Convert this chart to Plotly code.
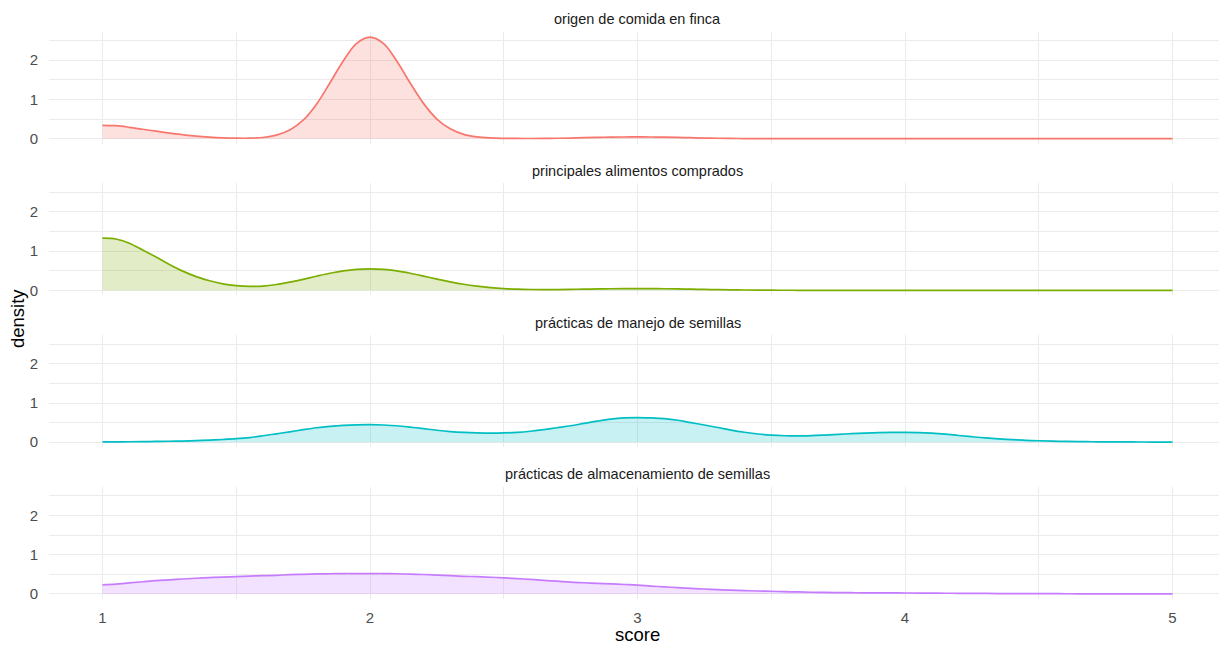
import plotly.graph_objects as go

# ---- data (density values) ----
score_grid = [1.00, 1.05, 1.10, 1.15, 1.20, 1.25, 1.30, 1.35, 1.40, 1.45,
              1.50, 1.55, 1.60, 1.65, 1.70, 1.75, 1.80, 1.85, 1.90, 1.95,
              2.00, 2.05, 2.10, 2.15, 2.20, 2.25, 2.30, 2.35, 2.40, 2.45,
              2.50, 2.55, 2.60, 2.65, 2.70, 2.75, 2.80, 2.85, 2.90, 2.95,
              3.00, 3.05, 3.10, 3.15, 3.20, 3.25, 3.30, 3.35, 3.40, 3.45,
              3.50, 3.55, 3.60, 3.65, 3.70, 3.75, 3.80, 3.85, 3.90, 3.95,
              4.00, 4.05, 4.10, 4.15, 4.20, 4.25, 4.30, 4.35, 4.40, 4.45,
              4.50, 4.55, 4.60, 4.65, 4.70, 4.75, 4.80, 4.85, 4.90, 4.95,
              5.00]

facet_titles = ["origen de comida en finca",
                "principales alimentos comprados",
                "prácticas de manejo de semillas",
                "prácticas de almacenamiento de semillas"]

density_origen = [0.34, 0.33, 0.29, 0.24, 0.19, 0.14, 0.10, 0.065, 0.04, 0.022,
                  0.013, 0.012, 0.03, 0.09, 0.22, 0.47, 0.88, 1.42, 1.98, 2.43,
                  2.59, 2.43, 1.98, 1.42, 0.90, 0.50, 0.25, 0.11, 0.045, 0.018,
                  0.008, 0.005, 0.004, 0.006, 0.010, 0.016, 0.024, 0.032, 0.039, 0.043,
                  0.044, 0.043, 0.039, 0.032, 0.024, 0.016, 0.010, 0.006, 0.003, 0.002,
                  0.001, 0.001, 0.001, 0.0, 0.0, 0.0, 0.0, 0.0, 0.0, 0.0,
                  0.0, 0.0, 0.0, 0.0, 0.0, 0.0, 0.0, 0.0, 0.0, 0.0,
                  0.0, 0.0, 0.0, 0.0, 0.0, 0.0, 0.0, 0.0, 0.0, 0.0,
                  0.0]

density_comprados = [1.33, 1.31, 1.20, 1.03, 0.85, 0.66, 0.49, 0.35, 0.245, 0.165,
                     0.12, 0.10, 0.11, 0.15, 0.21, 0.28, 0.36, 0.435, 0.497, 0.536,
                     0.55, 0.536, 0.496, 0.436, 0.364, 0.288, 0.217, 0.155, 0.107, 0.07,
                     0.045, 0.03, 0.022, 0.02, 0.021, 0.025, 0.031, 0.036, 0.041, 0.044,
                     0.045, 0.044, 0.041, 0.036, 0.030, 0.024, 0.018, 0.013, 0.009, 0.006,
                     0.004, 0.003, 0.002, 0.002, 0.002, 0.002, 0.002, 0.002, 0.002, 0.002,
                     0.002, 0.002, 0.002, 0.002, 0.002, 0.002, 0.002, 0.002, 0.002, 0.002,
                     0.002, 0.002, 0.002, 0.002, 0.002, 0.002, 0.002, 0.002, 0.002, 0.002,
                     0.002]

density_manejo = [0.01, 0.01, 0.012, 0.015, 0.02, 0.025, 0.03, 0.04, 0.055, 0.07,
                  0.09, 0.12, 0.165, 0.215, 0.265, 0.32, 0.37, 0.405, 0.43, 0.445,
                  0.45, 0.44, 0.42, 0.385, 0.345, 0.305, 0.272, 0.25, 0.237, 0.232,
                  0.237, 0.252, 0.28, 0.32, 0.37, 0.42, 0.48, 0.54, 0.59, 0.62,
                  0.63, 0.62, 0.60, 0.56, 0.50, 0.44, 0.375, 0.31, 0.255, 0.21,
                  0.18, 0.165, 0.16, 0.168, 0.183, 0.20, 0.218, 0.233, 0.244, 0.25,
                  0.25, 0.245, 0.23, 0.205, 0.172, 0.14, 0.11, 0.085, 0.065, 0.05,
                  0.038, 0.028, 0.02, 0.015, 0.012, 0.01, 0.008, 0.007, 0.006, 0.005,
                  0.005]

density_almacenamiento = [0.23, 0.25, 0.28, 0.31, 0.34, 0.36, 0.38, 0.40, 0.415, 0.43,
                          0.44, 0.455, 0.465, 0.475, 0.49, 0.50, 0.51, 0.515, 0.52, 0.52,
                          0.52, 0.52, 0.515, 0.505, 0.495, 0.48, 0.465, 0.45, 0.44, 0.425,
                          0.41, 0.39, 0.37, 0.345, 0.325, 0.30, 0.285, 0.27, 0.255, 0.24,
                          0.225, 0.20, 0.18, 0.16, 0.14, 0.125, 0.11, 0.095, 0.085, 0.075,
                          0.068, 0.058, 0.05, 0.043, 0.038, 0.034, 0.031, 0.028, 0.026, 0.025,
                          0.024, 0.022, 0.02, 0.018, 0.016, 0.014, 0.012, 0.01, 0.009, 0.008,
                          0.007, 0.006, 0.005, 0.004, 0.004, 0.003, 0.003, 0.002, 0.002, 0.001,
                          0.001]

series = [density_origen, density_comprados, density_manejo, density_almacenamiento]
line_colors = ["#F8766D", "#7CAE00", "#00BFC4", "#C77CFF"]
fill_colors = ["rgba(248,118,109,0.22)", "rgba(124,174,0,0.22)",
               "rgba(0,191,196,0.22)", "rgba(199,124,255,0.22)"]

x_ticks = [1, 2, 3, 4, 5]
y_ticks = [0, 1, 2]

# ---- layout geometry (pixel positions in the page; page body has an 8px margin) ----
OFF = 8.0
W = 1219
H = 643.0
panel_px = [(31.7, 144.4), (184.1, 296.8), (336.7, 449.4), (489.1, 601.8)]
strip_px = [19.3, 171.7, 324.2, 476.6]
ML = 49 - OFF
MR = 1
PW = W - ML - MR


def py(p):
    return 1 - (p - OFF) / H


def px(p):
    return (p - OFF - ML) / PW


FONT = "Liberation Sans, Arial, Helvetica, sans-serif"
GRID = "#EBEBEB"

fig = go.Figure()
layout = dict(
    width=W, height=int(H),
    margin=dict(l=ML, r=MR, t=0, b=0),
    paper_bgcolor="white", plot_bgcolor="white",
    showlegend=False,
    font=dict(family=FONT),
    annotations=[],
)

for i, (ys, lc, fc) in enumerate(zip(series, line_colors, fill_colors)):
    n = i + 1
    xa = "x" if n == 1 else f"x{n}"
    ya = "y" if n == 1 else f"y{n}"
    fig.add_trace(go.Scatter(
        x=score_grid, y=ys, xaxis=xa, yaxis=ya,
        mode="lines", line=dict(color=lc, width=1.7, shape="spline", smoothing=1.0),
        fill="tozeroy", fillcolor=fc, hoverinfo="x+y",
    ))
    top, bot = panel_px[i]
    dom = [py(bot), py(top)]
    xkey = "xaxis" if n == 1 else f"xaxis{n}"
    ykey = "yaxis" if n == 1 else f"yaxis{n}"
    xax = dict(
        domain=[0, 1], range=[0.8, 5.2], anchor=ya,
        tickvals=x_ticks, ticktext=[str(v) for v in x_ticks],
        showticklabels=(n == 4),
        ticks="outside" if n == 4 else "", ticklen=5, tickcolor="rgba(0,0,0,0)",
        tickfont=dict(size=15, color="#4D4D4D", family=FONT),
        showgrid=True, gridcolor=GRID, gridwidth=1.4,
        minor=dict(tick0=0.5, dtick=1, showgrid=True, gridcolor=GRID, gridwidth=0.7),
        zeroline=False, showline=False,
    )
    if n != 1:
        xax["matches"] = "x"
    layout[xkey] = xax
    layout[ykey] = dict(
        domain=dom, range=[-0.13, 2.73], anchor=xa,
        tickvals=y_ticks, ticktext=[str(v) for v in y_ticks],
        ticks="outside", ticklen=7, tickcolor="rgba(0,0,0,0)",
        tickfont=dict(size=15, color="#4D4D4D", family=FONT),
        showgrid=True, gridcolor=GRID, gridwidth=1.4,
        minor=dict(tick0=0.5, dtick=1, showgrid=True, gridcolor=GRID, gridwidth=0.7),
        zeroline=False, showline=False,
    )
    layout["annotations"].append(dict(
        text=facet_titles[i], xref="paper", yref="paper",
        x=0.5, y=py(strip_px[i]), xanchor="center", yanchor="middle",
        showarrow=False, font=dict(size=14.5, color="#1A1A1A", family=FONT),
    ))

layout["annotations"].append(dict(
    text="score", xref="paper", yref="paper", x=0.5, y=py(637),
    xanchor="center", yanchor="middle", showarrow=False,
    font=dict(size=18.5, color="black", family=FONT),
))
layout["annotations"].append(dict(
    text="density", xref="paper", yref="paper", x=px(17.5), y=py(320),
    xanchor="center", yanchor="middle", showarrow=False, textangle=-90,
    font=dict(size=18.5, color="black", family=FONT),
))

fig.update_layout(**layout)
fig.write_html("out.html")
